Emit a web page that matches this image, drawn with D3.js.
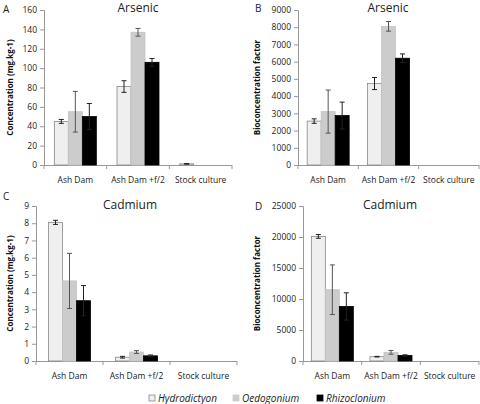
<!DOCTYPE html>
<html><head><meta charset="utf-8">
<script src="https://cdn.jsdelivr.net/npm/d3@7/dist/d3.min.js"></script>
<style>body{margin:0;background:#fff}text{font-family:"Open Sans",sans-serif}</style>
</head><body><svg id="c" width="480" height="404"></svg>
<script>
const categories = ["Ash Dam", "Ash Dam +f/2", "Stock culture"];
const species = ["Hydrodictyon", "Oedogonium", "Rhizoclonium"];
const colors = ["#efefef", "#cccccc", "#000000"];
// values [species][category], errors same shape
const asConc = [[45, 81, 1.2], [55, 137, 0], [50, 106, 0]];
const asConcErr = [[2, 6, 0.3], [21, 4, 0], [13.5, 4, 0]];
const asBcf = [[2550, 4730, 0], [3100, 8050, 0], [2870, 6200, 0]];
const asBcfErr = [[130, 350, 0], [1250, 280, 0], [780, 250, 0]];
const cdConc = [[8.05, 0.22, 0], [4.65, 0.52, 0], [3.5, 0.3, 0]];
const cdConcErr = [[0.12, 0.05, 0], [1.6, 0.08, 0], [0.88, 0.05, 0]];
const cdBcf = [[20100, 700, 0], [11500, 1400, 0], [8800, 900, 0]];
const cdBcfErr = [[300, 50, 0], [4000, 300, 0], [2200, 100, 0]];
const ticksA = [0,20,40,60,80,100,120,140,160];
const ticksB = [0,1000,2000,3000,4000,5000,6000,7000,8000,9000];
const ticksC = [0,1,2,3,4,5,6,7,8,9];
const ticksD = [0,5000,10000,15000,20000,25000];

const svg = d3.select("#c");
const panels = [
  {letter:"A", title:"Arsenic", yTitle:"Concentration (mg.kg-1)", vals:asConc, errs:asConcErr, ticks:ticksA,
   x0:44, x1:232, yT:10, yB:165, lx:3, ly:13, tx:138, ty:12, ytx:13},
  {letter:"B", title:"Arsenic", yTitle:"Bioconcentration factor", vals:asBcf, errs:asBcfErr, ticks:ticksB,
   x0:298, x1:479, yT:10, yB:165, lx:255, ly:12, tx:388, ty:12, ytx:260},
  {letter:"C", title:"Cadmium", yTitle:"Concentration (mg.kg-1)", vals:cdConc, errs:cdConcErr, ticks:ticksC,
   x0:36, x1:237, yT:206, yB:361, lx:3, ly:200, tx:130, ty:209, ytx:13},
  {letter:"D", title:"Cadmium", yTitle:"Bioconcentration factor", vals:cdBcf, errs:cdBcfErr, ticks:ticksD,
   x0:303, x1:479, yT:206, yB:361, lx:255, ly:210, tx:390, ty:209, ytx:260}
];

panels.forEach(p => {
  const g = svg.append("g");
  const x = d3.scaleBand().domain(categories).range([p.x0, p.x1]).padding(0);
  const bw = x.bandwidth();
  const xs = d3.scaleBand().domain(species).range([bw/2 - 21, bw/2 + 21]).padding(0);
  const y = d3.scaleLinear().domain([0, d3.max(p.ticks)]).range([p.yB, p.yT]);

  // y axis
  const ya = g.append("g").attr("transform", `translate(${p.x0},0)`)
    .call(d3.axisLeft(y).tickValues(p.ticks).tickSize(4).tickPadding(3).tickFormat(d3.format("d")));
  ya.select(".domain").attr("stroke", "#999");
  ya.selectAll(".tick line").attr("stroke", "#999");
  ya.selectAll(".tick text").attr("fill", "#222").style("font-size", "8.5px");

  // x axis line with boundary ticks
  g.append("line").attr("x1", p.x0).attr("x2", p.x1).attr("y1", p.yB + 0.5).attr("y2", p.yB + 0.5).attr("stroke", "#999");
  [p.x0, ...categories.map(c => x(c) + bw)].forEach(xx => {
    g.append("line").attr("x1", xx).attr("x2", xx).attr("y1", p.yB).attr("y2", p.yB + 4).attr("stroke", "#999");
  });
  categories.forEach(c => {
    g.append("text").attr("x", x(c) + bw/2).attr("y", p.yB + 18).attr("text-anchor", "middle")
      .attr("fill", "#222").style("font-size", "8.5px").text(c);
  });

  // bars
  species.forEach((s, si) => {
    categories.forEach((c, ci) => {
      const v = p.vals[si][ci];
      if (v <= 0) return;
      const bx = x(c) + xs(s);
      g.append("rect").attr("x", bx).attr("y", y(v)).attr("width", xs.bandwidth()).attr("height", p.yB - y(v))
        .attr("fill", colors[si]).attr("stroke", si === 0 ? "#888" : (si === 1 ? "#c4c4c4" : "#000")).attr("stroke-width", 0.8);
      const e = p.errs[si][ci];
      if (e > 0) {
        const cx = bx + xs.bandwidth()/2;
        const ec = si === 1 ? "#555" : "#222";
        g.append("line").attr("x1", cx).attr("x2", cx).attr("y1", y(v - e)).attr("y2", y(v + e)).attr("stroke", ec).attr("stroke-width", 1);
        [v - e, v + e].forEach(yy => g.append("line").attr("x1", cx - 2.5).attr("x2", cx + 2.5)
          .attr("y1", y(yy)).attr("y2", y(yy)).attr("stroke", ec).attr("stroke-width", 1));
      }
    });
  });

  // titles
  g.append("text").attr("x", p.lx).attr("y", p.ly).style("font-size", "10px").attr("fill", "#222").text(p.letter);
  g.append("text").attr("x", p.tx).attr("y", p.ty).attr("text-anchor", "middle").style("font-size", "12px").attr("fill", "#222").text(p.title);
  g.append("text").attr("transform", `translate(${p.ytx},${(p.yT + p.yB)/2}) rotate(-90)`).attr("text-anchor", "middle")
    .style("font-size", "8px").style("font-weight", "bold").attr("fill", "#111").text(p.yTitle);
});

// legend
const lg = svg.append("g");
const lx = [149, 233, 317];
species.forEach((s, i) => {
  lg.append("rect").attr("x", lx[i]).attr("y", 395).attr("width", 6).attr("height", 6)
    .attr("fill", colors[i]).attr("stroke", i === 0 ? "#888" : colors[i]).attr("stroke-width", 0.8);
  lg.append("text").attr("x", lx[i] + 9).attr("y", 401.5).style("font-size", "10px").style("font-style", "italic")
    .attr("fill", "#222").text(s);
});
</script></body></html>
